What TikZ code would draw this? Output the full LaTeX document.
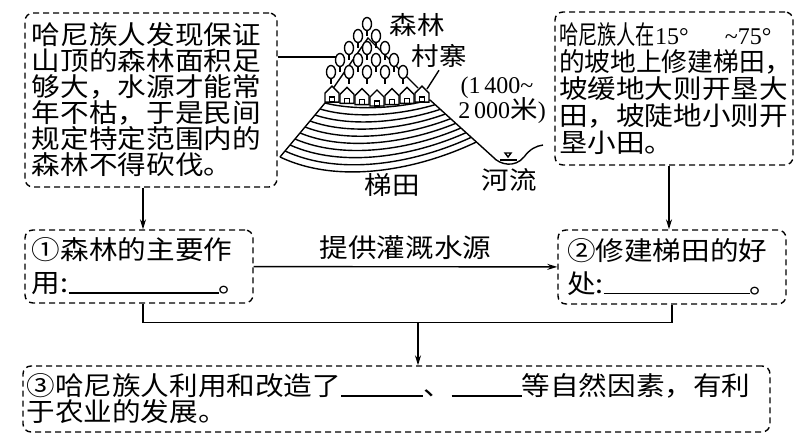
\documentclass[tikz,border=0pt]{standalone}
\usepackage{fontspec}
\usetikzlibrary{arrows.meta}
\setmainfont{Noto Sans CJK SC}[FakeStretch=1.1]
\newfontfamily\latin{Liberation Serif}
\newfontfamily\narrowA{Noto Sans CJK SC}[FakeStretch=0.74]
\newfontfamily\narrowB{Noto Sans CJK SC}[FakeStretch=0.99]
\newcommand{\blank}[1]{\rule[-0.5pt]{#1}{0.9pt}}
\newcommand{\digits}[1]{{\latin\fontsize{12pt}{12pt}\selectfont #1}}

\begin{document}
\begin{tikzpicture}[x=0.5pt, y=-0.5pt, line width=0.7pt,
    box/.style = {draw, dash pattern=on 3pt off 2pt, rounded corners=4pt, align=left, inner ysep=1pt, font=\fontsize{13pt}{13pt}\selectfont},
    arr/.style = {-{Stealth[length=5pt,width=3pt]}},
    lbl/.style = {inner sep=1pt, font=\fontsize{12.5pt}{12.5pt}\selectfont}]
    \useasboundingbox (0,0) rectangle (808,438);

    \node[box, text width=119pt, inner xsep=3.5pt, minimum height=87pt] (leftbox) at (151,100)
        {哈尼族人发现保证\\山顶的森林面积足\\够大，水源才能常\\年不枯，于是民间\\规定特定范围内的\\森林不得砍伐。};
    \node[box, text width=115pt, inner xsep=2pt, minimum height=76.5pt, font=\fontsize{13pt}{13.5pt}\selectfont] (rightbox) at (674,88.5)
        {{\narrowA 哈尼族人在}\digits{15°\hspace{18pt}\textasciitilde 75°}\\{\narrowB 的坡地上修建梯田}\makebox[6pt][l]{，}\\坡缓地大则开垦大\\田，坡陡地小则开\\垦小田。};
    \node[box, text width=107pt, inner xsep=3.5pt, minimum height=36.5pt, font=\fontsize{13pt}{16.5pt}\selectfont] (boxA) at (139,266.5)
        {①森林的主要作\\用:\blank{75pt}。};
    \node[box, text width=105pt, inner xsep=4.5pt, minimum height=37pt, font=\fontsize{13pt}{16.5pt}\selectfont] (boxB) at (672,267)
        {②修建梯田的好\\处:\blank{73pt}。};
    \node[box, text width=370pt, inner xsep=1.75pt, minimum height=33pt] (boxC) at (396.5,399)
        {③哈尼族人利用和改造了\blank{41pt}、\blank{35pt}等自然因素，有利\\于农业的发展。};

    \draw (325,103) -- (280,157);
    \draw (430,100) -- (493,157) .. controls (500,165) and (515,168) .. (524,157) .. controls (530,149) and (536,146) .. (543,145);
    \draw (500,160) -- (517,160);
    \draw (505,153) -- (511,153) -- (508,157) -- cycle;
    \foreach \i in {0,...,9} {
        \pgfmathsetmacro\s{\i/9}
        \pgfmathsetmacro\lx{325-45*\s}
        \pgfmathsetmacro\ly{103+54*\s}
        \pgfmathsetmacro\rx{430+46.4*\s}
        \pgfmathsetmacro\ry{100+42*\s}
        \pgfmathsetmacro\w{0.3*(\rx-\lx)}
        \pgfmathsetmacro\d{8+20*\s}
        \draw (\lx,\ly) .. controls +(\w,\d) and +(-\w,\d) .. (\rx,\ry);
    }
    \draw (332,90) -- (368,38) -- (418,88);
    \foreach \r in {0,...,4} {
        \foreach \j in {0,...,\r} {
            \pgfmathsetmacro\tx{367+(\j-\r/2)*18}
            \pgfmathsetmacro\ty{24+\r*12}
            \draw (\tx,\ty+6) -- ++(0,6.5);
            \draw[fill=white] (\tx,\ty) ellipse [x radius=2.25pt, y radius=3.25pt];
        }
    }
    \foreach \i in {0,...,6} {
        \pgfmathsetmacro\hx{332+15*\i}
        \pgfmathsetmacro\hy{106-abs(\i-3)*1.3}
        \draw[fill=white] (\hx-7,\hy) -- ++(0,-9) -- ++(7,-7) -- ++(7,7) -- ++(0,9) -- cycle;
        \draw (\hx-2.5,\hy) rectangle ++(5,-5);
    }

    \node[lbl] (senlin) at (417,25) {森林};
    \node[lbl] (cunzhai) at (439,56) {村寨};
    \node[lbl] (alt1) at (497,88) {\digits{(1\,400\textasciitilde}};
    \node[lbl] (alt2) at (502,111) {\digits{2\,000}米\digits{)}};
    \node[lbl] (titian) at (392,185) {梯田};
    \node[lbl] (heliu) at (509,180) {河流};
    \coordinate (forest) at (336,57);
    \coordinate (roof) at (427,89);
    \coordinate (join) at (418,322);

    \draw (leftbox.east |- forest) -- (forest);
    \draw (cunzhai.south) -- (roof);
    \draw[arr] ([xshift=-4pt]leftbox.south) -- ([xshift=-4pt]leftbox.south |- boxA.north);
    \draw[arr] ([xshift=-2.5pt]rightbox.south) -- ([xshift=-2.5pt]rightbox.south |- boxB.north);
    \draw[arr] (boxA) -- node[above, font=\fontsize{13pt}{13pt}\selectfont] {提供灌溉水源} (boxB);
    \draw ([xshift=2pt]boxA.south) -- ++(0,19) -| (boxB.south);
    \draw[arr] (join) -- (join |- boxC.north);
\end{tikzpicture}
\end{document}
